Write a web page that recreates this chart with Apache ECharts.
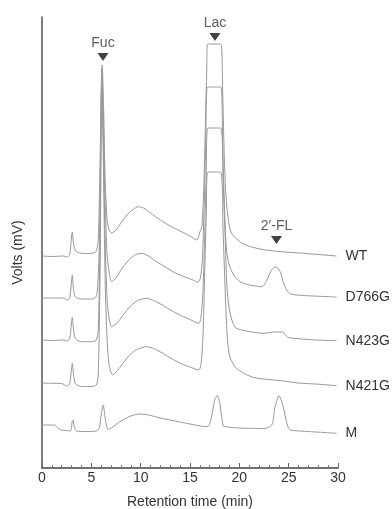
<!DOCTYPE html>
<html><head><meta charset="utf-8">
<script src="https://cdn.jsdelivr.net/npm/echarts@6/dist/echarts.min.js"></script>
<style>html,body{margin:0;padding:0;background:#fff}#c{width:392px;height:509px}</style>
</head><body><div id="c"></div>
<script>
// Chromatogram traces (retention time in min, detector signal in arbitrary mV units, stacked)
const traceNames = ['WT', 'D766G', 'N423G', 'N421G', 'M'];

const wtTime   = [0, 1.0, 2.2, 2.5, 2.8, 3.0, 3.07, 3.2, 3.4, 3.8, 4.5, 5.2, 5.5, 5.7, 5.85, 6.0, 6.1, 6.25, 6.4, 6.6, 6.8, 7.06, 7.5, 8.0, 8.7, 9.3, 9.73, 10.3, 11.0, 12.0, 13.0, 14.0, 15.0, 15.7, 16.0, 16.2, 16.4, 16.55, 16.7, 16.78, 18.12, 18.3, 18.45, 18.6, 18.8, 19.2, 20.4, 22.1, 24.0, 26.1, 28.0, 29.85];
const wtSignal = [212, 211.5, 212, 211, 213, 232, 236, 224, 217, 215, 214.5, 215, 217, 228, 288, 368, 403, 358, 288, 248, 238, 235, 238, 245, 254, 259, 261.3, 260, 255, 248, 242, 237, 232, 228, 236, 241, 280, 340, 400, 424, 424, 380, 320, 280, 255, 235, 224, 219, 216.5, 215, 213.5, 212];

const d766gTime   = [0, 1.0, 2.2, 2.5, 2.8, 3.0, 3.07, 3.2, 3.4, 4.0, 5.0, 5.4, 5.6, 5.8, 5.95, 6.08, 6.22, 6.4, 6.6, 6.8, 7.06, 7.5, 8.0, 8.7, 9.4, 10.1, 10.8, 11.5, 12.5, 13.5, 14.5, 15.3, 15.8, 16.05, 16.25, 16.45, 16.6, 16.78, 18.12, 18.3, 18.5, 18.7, 19.0, 19.5, 20.1, 21.0, 22.3, 22.8, 23.2, 23.6, 23.9, 24.2, 24.45, 24.8, 25.2, 26.5, 29.85];
const d766gSignal = [170, 170, 170, 168, 170, 188, 193, 178, 171, 169, 169, 170, 176, 218, 318, 400, 348, 268, 213, 196, 186.3, 190, 198, 207, 213, 214.7, 212, 207, 201, 195, 191, 188, 185.7, 190, 208, 268, 328, 381, 381, 328, 258, 218, 202, 192, 186.3, 183, 181.3, 188, 197, 201, 200, 195, 186, 178, 174, 172.5, 171];

const n423gTime   = [0, 1.0, 2.2, 2.5, 2.8, 3.0, 3.07, 3.2, 3.4, 4.0, 5.0, 5.5, 5.7, 5.9, 6.05, 6.2, 6.4, 6.6, 6.8, 7.06, 7.5, 8.0, 8.8, 9.6, 10.6, 11.3, 12.2, 13.2, 14.2, 15.0, 15.9, 16.1, 16.3, 16.5, 16.65, 16.8, 18.1, 18.35, 18.6, 18.75, 19.0, 19.35, 19.7, 21.0, 22.4, 23.6, 24.4, 24.9, 26.0, 27.8, 29.85];
const n423gSignal = [128, 127.5, 128, 127, 129, 146, 150.7, 138, 129, 126.3, 126.3, 128, 138, 238, 398, 338, 228, 168, 150, 141.3, 144, 150, 160, 167, 169.7, 167.5, 163, 157, 152, 148.5, 144.7, 150, 173, 238, 298, 340, 340, 290, 220, 180, 158, 145, 139.7, 136.5, 134.7, 136, 136, 130.7, 129.3, 128, 127.3];

const n421gTime   = [0, 1.0, 2.0, 2.5, 2.8, 3.0, 3.07, 3.2, 3.4, 4.0, 5.0, 5.5, 5.7, 5.9, 6.05, 6.2, 6.4, 6.6, 6.8, 7.15, 7.5, 8.0, 8.8, 9.6, 10.6, 11.3, 12.2, 13.2, 14.2, 15.0, 15.9, 16.1, 16.3, 16.5, 16.65, 16.8, 18.1, 18.35, 18.6, 18.8, 19.05, 19.7, 21.4, 24.5, 26.0, 28.2, 29.85];
const n421gSignal = [85, 84.7, 84.5, 82, 84, 100, 104.7, 93, 84, 81.5, 81.5, 83, 93, 208, 393, 318, 188, 128, 103, 93, 96, 102, 112, 118.5, 121.3, 119.5, 115, 109, 104, 101, 98, 103, 128, 198, 253, 296, 296, 238, 168, 128, 111, 99.7, 90.7, 87, 85, 83.7, 82.3];

const mTime   = [0, 1.3, 1.6, 1.9, 2.5, 2.9, 3.05, 3.12, 3.3, 3.5, 4.5, 5.5, 5.8, 6.0, 6.2, 6.4, 6.6, 6.75, 7.3, 8.0, 9.0, 9.9, 10.8, 12.0, 13.5, 15.0, 16.5, 16.9, 17.2, 17.5, 17.77, 18.0, 18.2, 18.4, 18.8, 20.0, 22.5, 23.3, 23.6, 24.02, 24.4, 24.9, 25.2, 27.0, 29.85];
const mSignal = [43, 43, 40, 38, 37.5, 37, 46, 48, 40, 37, 36.5, 37, 40, 53, 63, 50, 40, 38.7, 42, 47, 52, 54, 53, 50, 47, 44, 41.5, 42, 52, 68, 72.5, 66, 52, 42, 41, 40, 39.5, 43, 60, 72.3, 63, 42, 38, 36.5, 34.7];

// Peak markers
const peakNames = ['Fuc', 'Lac', "2\u2032-FL"];
const peakTimes = [6.18, 17.53, 23.77];
const peakLevels = [411, 431, 228];

const xTicks = [0, 5, 10, 15, 20, 25, 30];

const traceTimes = [wtTime, d766gTime, n423gTime, n421gTime, mTime];
const traceSignals = [wtSignal, d766gSignal, n423gSignal, n421gSignal, mSignal];

const FONT = '"Liberation Sans", Arial, sans-serif';

const series = traceNames.map((name, i) => ({
  type: 'line',
  name: name,
  data: traceTimes[i].map((t, j) => [t, traceSignals[i][j]]),
  showSymbol: false,
  smooth: 0.25,
  clip: false,
  lineStyle: { color: '#999', width: 1 },
  endLabel: { show: true, formatter: '{a}', distance: 9, color: '#333', fontSize: 14, fontFamily: FONT },
  z: 2
}));

series.push({
  type: 'scatter',
  data: peakNames.map((n, i) => ({ name: n, value: [peakTimes[i], peakLevels[i]] })),
  symbol: 'triangle',
  symbolRotate: 180,
  symbolSize: [11, 8],
  itemStyle: { color: '#111' },
  label: { show: true, position: 'top', distance: 3, formatter: '{b}', color: '#333', fontSize: 14, fontFamily: FONT },
  z: 5
});

const chart = echarts.init(document.getElementById('c'));
chart.setOption({
  animation: false,
  backgroundColor: '#fff',
  grid: { left: 42, right: 54, top: 17, bottom: 41, outerBoundsMode: 'none', containLabel: false },
  xAxis: {
    type: 'value', min: xTicks[0], max: xTicks[xTicks.length - 1], interval: 5,
    name: 'Retention time (min)', nameLocation: 'middle', nameGap: 27,
    nameTextStyle: { color: '#333', fontSize: 14, fontFamily: FONT },
    axisLine: { lineStyle: { color: '#444', width: 1.5 } },
    axisTick: { show: true, inside: true, length: 5, lineStyle: { color: '#666' } },
    minorTick: { show: true, splitNumber: 5, length: 3, lineStyle: { color: '#777' } },
    axisLabel: { color: '#333', fontSize: 14, fontFamily: FONT, margin: 3 },
    splitLine: { show: false }
  },
  yAxis: {
    type: 'value', min: 0, max: 451,
    name: 'Volts (mV)', nameLocation: 'middle', nameGap: 17, nameRotate: 90,
    nameTextStyle: { color: '#333', fontSize: 14, fontFamily: FONT, padding: [0, 20, 0, 0] },
    axisLine: { show: true, lineStyle: { color: '#555', width: 1.5 } },
    axisTick: { show: false },
    axisLabel: { show: false },
    splitLine: { show: false }
  },
  series: series
});
</script></body></html>
